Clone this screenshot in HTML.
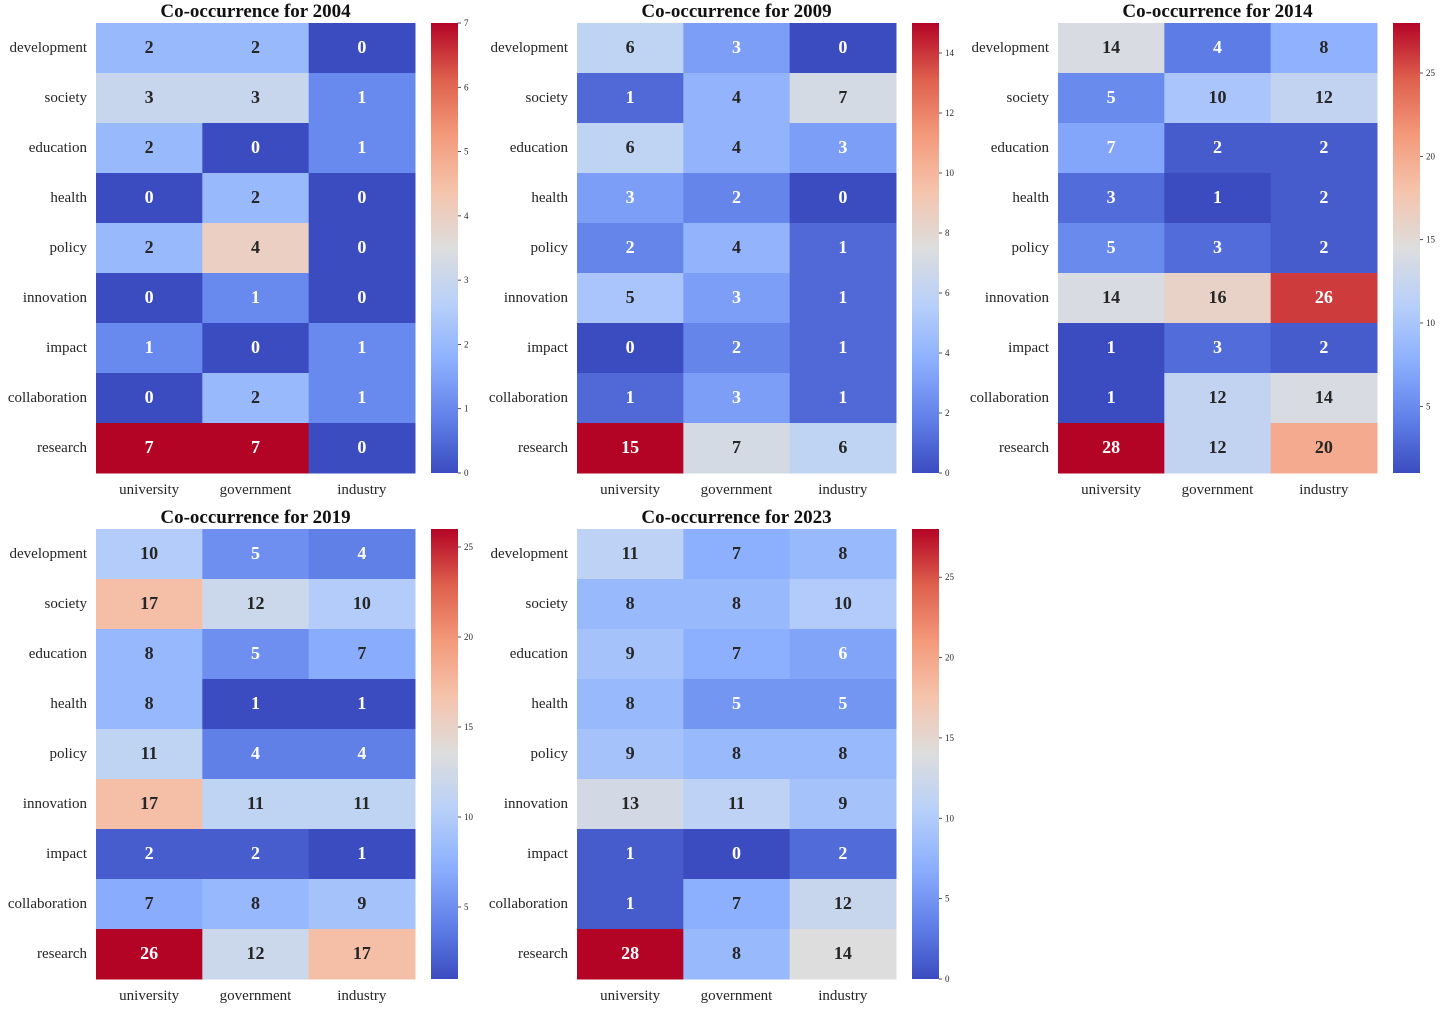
<!DOCTYPE html>
<html><head><meta charset="utf-8">
<style>
html,body{margin:0;padding:0;background:#fff;}
svg text{font-family:"Liberation Serif","DejaVu Serif",serif;}
</style></head>
<body>
<svg id="fig" width="1440" height="1008" xmlns="http://www.w3.org/2000/svg"></svg>
<script>
const rowLabels = ["development","society","education","health","policy","innovation","impact","collaboration","research"];
const colLabels = ["university","government","industry"];
const years = ["2004","2009","2014","2019","2023"];
const values2004 = [[2,2,0],[3,3,1],[2,0,1],[0,2,0],[2,4,0],[0,1,0],[1,0,1],[0,2,1],[7,7,0]];
const values2009 = [[6,3,0],[1,4,7],[6,4,3],[3,2,0],[2,4,1],[5,3,1],[0,2,1],[1,3,1],[15,7,6]];
const values2014 = [[14,4,8],[5,10,12],[7,2,2],[3,1,2],[5,3,2],[14,16,26],[1,3,2],[1,12,14],[28,12,20]];
const values2019 = [[10,5,4],[17,12,10],[8,5,7],[8,1,1],[11,4,4],[17,11,11],[2,2,1],[7,8,9],[26,12,17]];
const values2023 = [[11,7,8],[8,8,10],[9,7,6],[8,5,5],[9,8,8],[13,11,9],[1,0,2],[1,7,12],[28,8,14]];
const ticks2004 = [0,1,2,3,4,5,6,7];
const ticks2009 = [0,2,4,6,8,10,12,14];
const ticks2014 = [5,10,15,20,25];
const ticks2019 = [5,10,15,20,25];
const ticks2023 = [0,5,10,15,20,25];

const allValues = [values2004,values2009,values2014,values2019,values2023];
const allTicks = [ticks2004,ticks2009,ticks2014,ticks2019,ticks2023];
const origins = [[96,23],[577,23],[1058,23],[96,529],[577,529]];

const cw = [[59,76,192],[98,130,234],[141,176,254],[184,208,249],[221,221,221],[245,196,173],[244,154,123],[222,96,77],[180,4,38]];
function cmap(t){
  t=Math.max(0,Math.min(1,t));
  const p=t*8, i=Math.min(7,Math.floor(p)), f=p-i;
  const a=cw[i], b=cw[i+1];
  return [0,1,2].map(k=>Math.round(a[k]+(b[k]-a[k])*f));
}
function lum(c){
  const r=c.map(v=>{v/=255;return v<=0.03928?v/12.92:Math.pow((v+0.055)/1.055,2.4);});
  return 0.2126*r[0]+0.7152*r[1]+0.0722*r[2];
}
const NS="http://www.w3.org/2000/svg";
const svg=document.getElementById('fig');
function mk(tag,attrs,parent){
  const e=document.createElementNS(NS,tag);
  for(const k in attrs) e.setAttribute(k,attrs[k]);
  (parent||svg).appendChild(e); return e;
}
const W=319, H=450, cellW=W/3, cellH=H/9;
years.forEach((yr,pi)=>{
  const vals=allValues[pi], ticks=allTicks[pi];
  const flat=vals.flat();
  const vmin=Math.min(...flat), vmax=Math.max(...flat);
  const [x0,y0]=origins[pi];
  const g=mk('g',{});
  
  
  const sx=j=>x0+j*cellW, sy=i=>y0+i*cellH;
  const norm=v=>(v-vmin)/(vmax-vmin);
  vals.forEach((row,i)=>row.forEach((v,j)=>{
    const c=cmap(norm(v));
    const r=mk('rect',{x:sx(j),y:sy(i),width:cellW+0.5,height:cellH+0.5,fill:`rgb(${c})`},g);
    
    
    const t=mk('text',{x:sx(j)+cellW/2,y:sy(i)+cellH/2+5,'text-anchor':'middle','font-size':'18','font-weight':'bold',fill:lum(c)>0.408?'#262626':'#ffffff'},g);
    t.textContent=v;
    
    
  }));
  rowLabels.forEach((l,i)=>{
    const t=mk('text',{x:x0-9,y:sy(i)+cellH/2+4,'text-anchor':'end','font-size':'15',fill:'#262626'},g);
    t.textContent=l;
    
    
  });
  colLabels.forEach((l,j)=>{
    const t=mk('text',{x:sx(j)+cellW/2,y:y0+H+21,'text-anchor':'middle','font-size':'15',fill:'#262626'},g);
    t.textContent=l;
    
    
  });
  const tt=mk('text',{x:x0+W/2,y:y0-6,'text-anchor':'middle','font-size':'19','font-weight':'bold',fill:'#111'},g);
  tt.textContent='Co-occurrence for '+yr;
  
  
  const cbx=x0+335, cbw=27;
  const gid='grad'+yr;
  const lg=mk('linearGradient',{id:gid,x1:0,y1:1,x2:0,y2:0},svg);
  for(let k=0;k<=8;k++) mk('stop',{offset:k/8,'stop-color':`rgb(${cw[k]})`},lg);
  const cb=mk('rect',{x:cbx,y:y0,width:cbw,height:H,fill:`url(#${gid})`},g);
  
  
  ticks.forEach(tv=>{
    const ty=y0+H-norm(tv)*H;
    mk('line',{x1:cbx+cbw,x2:cbx+cbw+3,y1:ty,y2:ty,stroke:'#262626','stroke-width':0.8},g);
    const t=mk('text',{x:cbx+cbw+6,y:ty+3,'font-size':'9',fill:'#262626'},g);
    t.textContent=tv;
    
    
  });
});
</script>
</body></html>
